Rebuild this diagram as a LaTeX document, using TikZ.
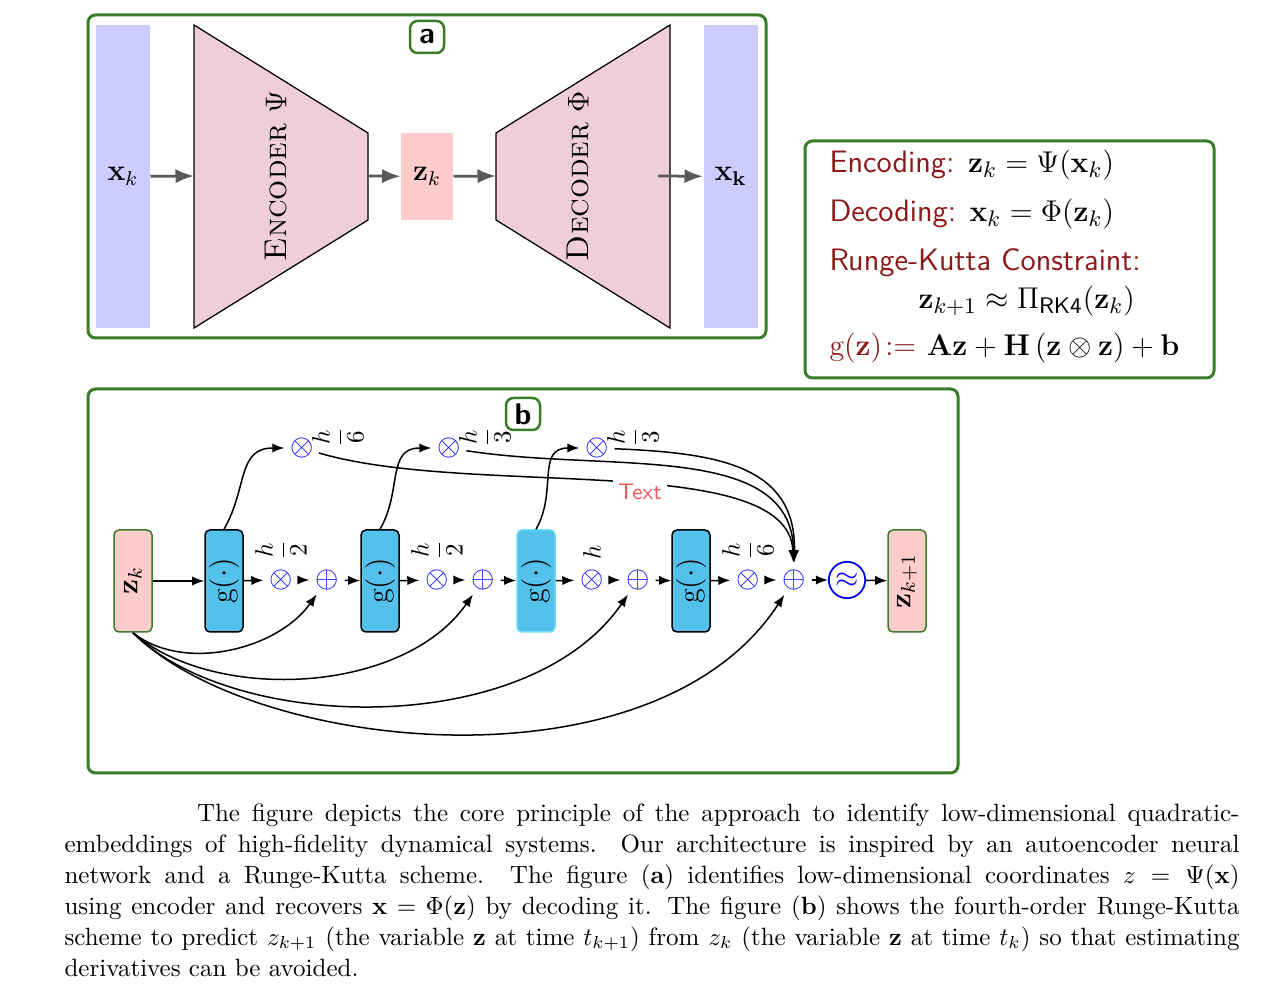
\documentclass[tikz,border=0pt]{standalone}
\usepackage{amsmath}
\usepackage{amssymb}
\usetikzlibrary{arrows.meta,positioning}
\definecolor{frmgreen}{RGB}{58,125,40}
\definecolor{encpink}{RGB}{240,205,218}
\definecolor{gblue}{RGB}{84,192,236}
\definecolor{gcyan}{RGB}{100,225,240}
\definecolor{darkred}{RGB}{140,24,24}
\definecolor{txtred}{RGB}{240,90,90}
\begin{document}
\begin{tikzpicture}[
      x=0.4pt,y=0.4pt,
      frame/.style={draw=frmgreen,line width=1.2pt,rounded corners=3pt},
      tag/.style={draw=frmgreen,line width=1pt,rounded corners=3pt,fill=white,
        font=\large\sffamily\bfseries,minimum width=13.6pt,minimum height=12.8pt,inner sep=1pt},
      bar/.style={fill=blue!20,minimum width=21.6pt,minimum height=121.2pt,inner sep=0pt,font=\large},
      net/.style={draw=black,fill=encpink,line width=.5pt},
      netlbl/.style={rotate=90,font=\fontsize{12.6}{15}\selectfont},
      garr/.style={-{Latex[length=2.6mm,width=2mm]},draw=black!65,line width=1.1pt},
      arr/.style={-{Latex[length=1.7mm,width=1.3mm]},line width=.6pt},
      gbox/.style={draw=black,fill=gblue,rounded corners=2pt,minimum width=15.2pt,
        minimum height=40.8pt,inner sep=0pt,line width=.6pt,font=\large},
      zbox/.style={draw=frmgreen,fill=red!20,rounded corners=2pt,minimum width=15.2pt,
        minimum height=40.8pt,inner sep=0pt,line width=.6pt,font=\large},
      op/.style={circle,inner sep=.5pt,text=blue,font=\large},
      frc/.style={rotate=90,inner sep=0pt},
      eq/.style={anchor=west,inner sep=0pt,font=\fontsize{12.4}{15}\selectfont}]
    \useasboundingbox (0,0) rectangle (1280,-990);

    \draw[frame] (88,-15) rectangle (766,-338);
    \node[bar] (xin) at (123,-176.5) {$\mathbf{x}_k$};
    \node[bar] (xout) at (730.5,-176.5) {$\mathbf{x_k}$};
    \draw[net] (194,-25) -- (368,-133) -- (368,-220) -- (194,-328) -- cycle;
    \draw[net] (496,-133) -- (670,-25) -- (670,-328) -- (496,-220) -- cycle;
    \node[netlbl] (enc) at (276,-176) {\textsc{Encoder} $\Psi$};
    \node[netlbl] (dec) at (578,-176) {\textsc{Decoder} $\Phi$};
    \node[fill=red!20,minimum width=20.8pt,minimum height=34.8pt,inner sep=0pt,font=\large] (za) at (427,-176.5) {$\mathbf{z}_k$};
    \node[tag] (ta) at (427,-37) {a};
    \coordinate (encin) at (194,-176);
    \coordinate (encout) at (368,-176);
    \coordinate (decin) at (496,-176);
    \coordinate (decout) at (658,-176);
    \draw[garr] (xin) -- (encin);
    \draw[garr] (encout) -- (za);
    \draw[garr] (za) -- (decin);
    \draw[garr] (decout) -- (xout);

    \draw[frame] (805,-141) rectangle (1214,-378);
    \node[eq] (encode) at (829,-165) {\textcolor{darkred}{\sffamily Encoding:} $\mathbf{z}_k = \Psi(\mathbf{x}_k)$};
    \node[eq] (decode) at (829,-214) {\textcolor{darkred}{\sffamily Decoding:} $\mathbf{x}_k = \Phi(\mathbf{z}_k)$};
    \node[eq] (rk) at (829,-263) {\textcolor{darkred}{\sffamily Runge-Kutta Constraint:}};
    \node[eq] (rkeq) at (918,-301) {$\mathbf{z}_{k+1} \approx \Pi_{\mathsf{RK4}}(\mathbf{z}_k)$};
    \node[eq,font=\fontsize{13}{15}\selectfont] (gdef) at (829,-348) {$\textcolor{darkred}{\mathrm{g}(\mathbf{z})\!:=}\ \mathbf{Az} + \mathbf{H}\left(\mathbf{z}\otimes\mathbf{z}\right) + \mathbf{b}$};

    \draw[frame] (88,-389) rectangle (958,-773);
    \node[tag] (tb) at (523,-414) {b};
    \node[zbox] (zk) at (133,-581) {\rotatebox{90}{$\mathbf{z}_k$}};
    \node[gbox] (g1) at (224,-581) {\rotatebox{90}{$\mathrm{g}(\cdot)$}};
    \node[gbox] (g2) at (380,-581) {\rotatebox{90}{$\mathrm{g}(\cdot)$}};
    \node[gbox,draw=gcyan] (g3) at (536,-581) {\rotatebox{90}{$\mathrm{g}(\cdot)$}};
    \node[gbox] (g4) at (691,-581) {\rotatebox{90}{$\mathrm{g}(\cdot)$}};
    \node[op] (m1) at (281,-580) {$\otimes$};
    \node[op] (p1) at (327,-580) {$\oplus$};
    \node[op] (m2) at (437,-580) {$\otimes$};
    \node[op] (p2) at (483,-580) {$\oplus$};
    \node[op] (m3) at (592,-580) {$\otimes$};
    \node[op] (p3) at (638,-580) {$\oplus$};
    \node[op] (m4) at (748,-580) {$\otimes$};
    \node[op] (p4) at (794,-580) {$\oplus$};
    \node[circle,draw=blue,text=blue,inner sep=1.3pt,line width=.7pt,font=\large] (apx) at (847,-580) {$\approx$};
    \node[zbox] (zk1) at (907,-581) {\rotatebox{90}{$\mathbf{z}_{k+1}$}};
    \node[frc] (f1) at (281,-550) {$\displaystyle\frac{h}{2}$};
    \node[frc] (f2) at (437,-550) {$\displaystyle\frac{h}{2}$};
    \node[frc] (f3) at (592,-552) {$h$};
    \node[frc] (f4) at (748,-550) {$\displaystyle\frac{h}{6}$};
    \node[op] (t1) at (302,-448) {$\otimes$};
    \node[op] (t2) at (449,-448) {$\otimes$};
    \node[op] (t3) at (597,-448) {$\otimes$};
    \node[frc] (l1) at (338,-437) {$\displaystyle\frac{h}{6}$};
    \node[frc] (l2) at (485,-437) {$\displaystyle\frac{h}{3}$};
    \node[frc] (l3) at (633,-437) {$\displaystyle\frac{h}{3}$};

    \draw[arr] (zk) -- (g1);
    \draw[arr] (g1) -- (m1);
    \draw[arr] (m1) -- (p1);
    \draw[arr] (p1) -- (g2);
    \draw[arr] (g2) -- (m2);
    \draw[arr] (m2) -- (p2);
    \draw[arr] (p2) -- (g3);
    \draw[arr] (g3) -- (m3);
    \draw[arr] (m3) -- (p3);
    \draw[arr] (p3) -- (g4);
    \draw[arr] (g4) -- (m4);
    \draw[arr] (m4) -- (p4);
    \draw[arr] (p4) -- (apx);
    \draw[arr] (apx) -- (zk1);
    \draw[arr] (g1.north) to[out=60,in=180,looseness=1.2] (t1);
    \draw[arr] (g2.north) to[out=60,in=180,looseness=1.2] (t2);
    \draw[arr] (g3.north) to[out=60,in=180,looseness=1.2] (t3);
    \draw[arr] (t1) .. controls +(170,-50) and +(-5,130) .. (p4);
    \draw[arr] (t2) .. controls +(160,-25) and +(-2,140) .. (p4);
    \draw[arr] (t3) .. controls +(120,-5) and +(2,115) .. (p4);
    \node[fill=white,inner sep=2pt,font=\sffamily\small,text=txtred] (lbl) at (640,-492) {Text};
    \draw[arr] (zk.south) .. controls +(50,-40) and +(-50,-70) .. (p1);
    \draw[arr] (zk.south) .. controls +(80,-70) and +(-80,-115) .. (p2);
    \draw[arr] (zk.south) .. controls +(100,-100) and +(-110,-160) .. (p3);
    \draw[arr] (zk.south) .. controls +(120,-120) and +(-140,-215) .. (p4);

    \node[anchor=north west,inner sep=0pt,text width=470pt,align=justify,
      font=\fontsize{10}{12.4}\selectfont] (cap) at (64,-803) {\hspace*{53pt}The figure depicts the core principle of the approach to identify low-dimensional quadratic-\linebreak embeddings of high-fidelity dynamical systems. Our architecture is inspired by an autoencoder neural\linebreak network and a Runge-Kutta scheme. The figure (\textbf{a}) identifies low-dimensional coordinates $z = \Psi(\mathbf{x})$\linebreak using encoder and recovers $\mathbf{x} = \Phi(\mathbf{z})$ by decoding it. The figure (\textbf{b}) shows the fourth-order Runge-Kutta\linebreak scheme to predict $z_{k+1}$ (the variable $\mathbf{z}$ at time $t_{k+1}$) from $z_k$ (the variable $\mathbf{z}$ at time $t_k$) so that estimating\linebreak derivatives can be avoided.};
  \end{tikzpicture}
\end{document}
